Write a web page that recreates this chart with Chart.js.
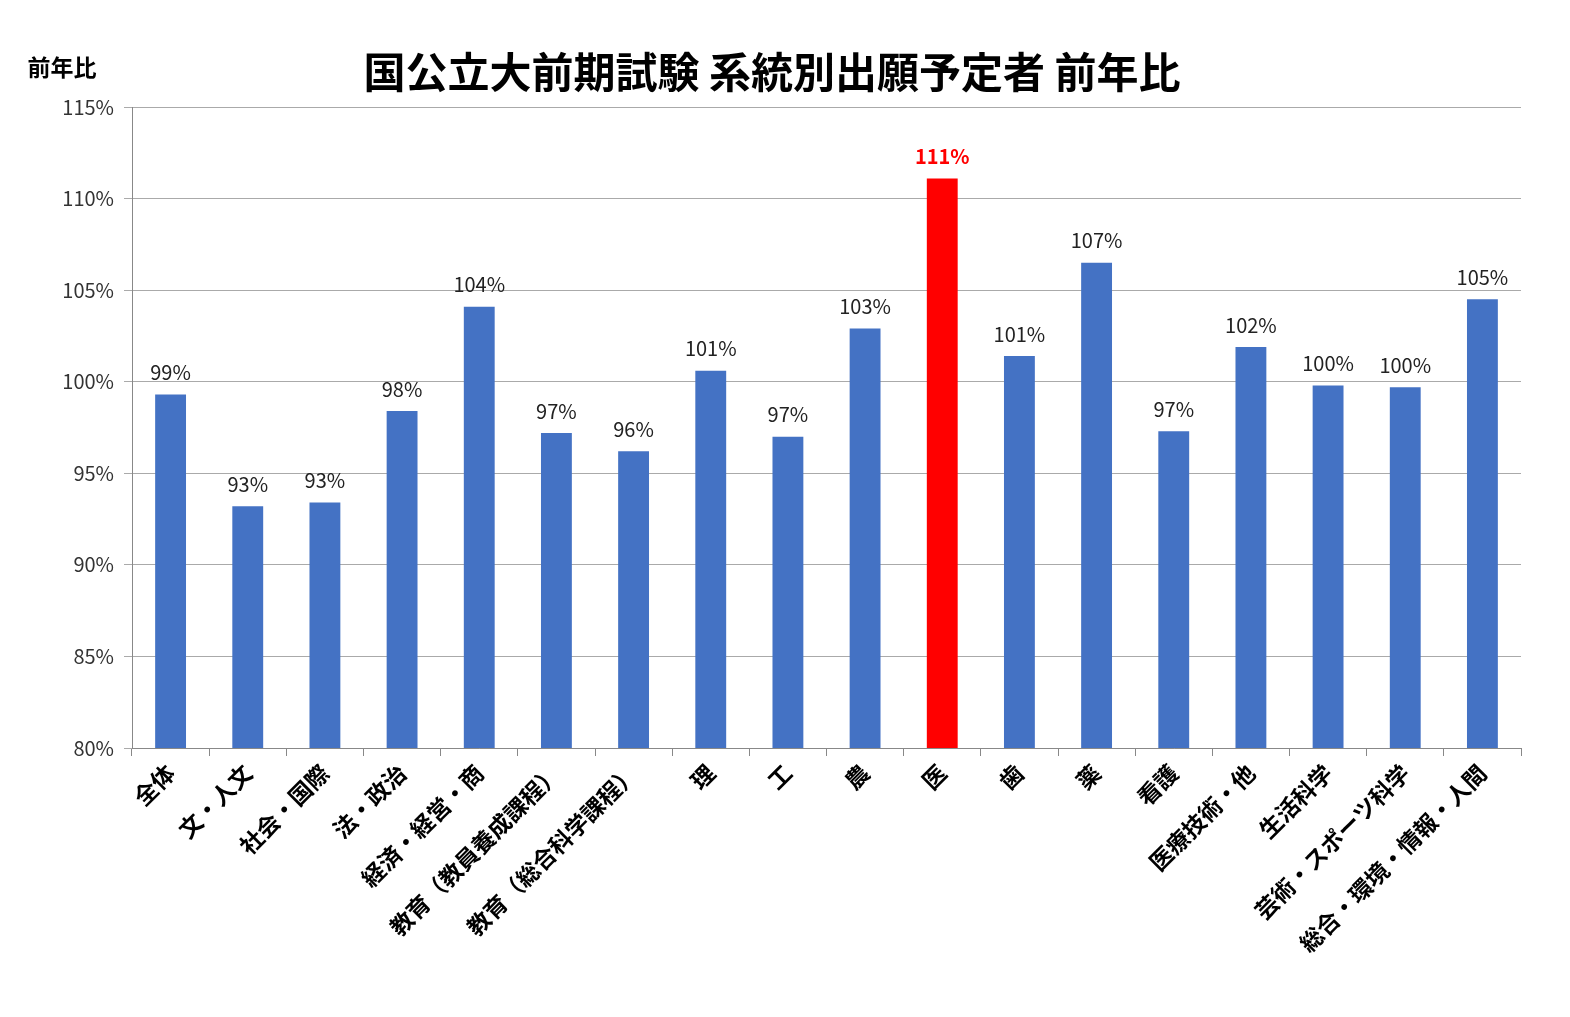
<!DOCTYPE html>
<html><head><meta charset="utf-8">
<script src="https://cdn.jsdelivr.net/npm/chart.js@4"></script>
<style>html,body{margin:0;padding:0;background:#fff}#w{width:1570px;height:1017px}</style>
</head><body><div id="w"><canvas id="c"></canvas></div>
<script>
const categories=["全体","文・人文","社会・国際","法・政治","経済・経営・商","教育（教員養成課程）","教育（総合科学課程）","理","工","農","医","歯","薬","看護","医療技術・他","生活科学","芸術・スポーツ科学","総合・環境・情報・人間"];
const values=[99.3,93.2,93.4,98.4,104.1,97.2,96.2,100.6,97.0,102.9,111.1,101.4,106.5,97.3,101.9,99.8,99.7,104.5];
const labels=["99%","93%","93%","98%","104%","97%","96%","101%","97%","103%","111%","101%","107%","97%","102%","100%","100%","105%"];
const yTicks=[80,85,90,95,100,105,110,115];
const F='"Noto Sans CJK JP","Noto Sans",sans-serif';
const colors=values.map((v,i)=>i===10?'#ff0000':'#4472c4');
const textPlugin={id:'tp',afterDatasetsDraw(ch){
  const ctx=ch.ctx;const meta=ch.getDatasetMeta(0);
  ctx.save();ctx.textAlign='center';ctx.textBaseline='bottom';
  meta.data.forEach((b,i)=>{
    ctx.font=(i===10?'bold ':'')+'20px '+F;
    ctx.fillStyle=i===10?'#ff0000':'#222';
    ctx.fillText(labels[i],b.x,b.y-12);
  });
  ctx.font='bold 42px '+F;ctx.fillStyle='#000';ctx.textBaseline='middle';
  ctx.fillText('国公立大前期試験 系統別出願予定者 前年比',772,72);
  ctx.font='bold 23px '+F;ctx.fillText('前年比',62,67);
  ctx.restore();
}};
new Chart(document.getElementById('c'),{type:'bar',
 data:{labels:categories,datasets:[{data:values,backgroundColor:colors,barPercentage:0.4,categoryPercentage:1}]},
 options:{responsive:true,maintainAspectRatio:false,animation:false,
  layout:{padding:{top:107,right:49,left:0,bottom:0}},
  plugins:{legend:{display:false},tooltip:{enabled:false}},
  scales:{
   y:{min:80,max:115,afterBuildTicks(a){a.ticks=yTicks.map(v=>({value:v}));},
      afterFit(s){s.width=132;},
      ticks:{callback:v=>v+'%',font:{size:20,family:F},color:'#333',padding:10},
      grid:{color:'#aaa',tickLength:8},border:{color:'#888'}},
   x:{afterFit(s){s.height=269;},
      ticks:{font:{size:23,weight:'bold',family:F},color:'#000',maxRotation:45,minRotation:45,autoSkip:false},
      grid:{display:true,drawOnChartArea:false,tickLength:8,color:'#888',offset:true},border:{color:'#888'}}
  }},
 plugins:[textPlugin]});
</script></body></html>
